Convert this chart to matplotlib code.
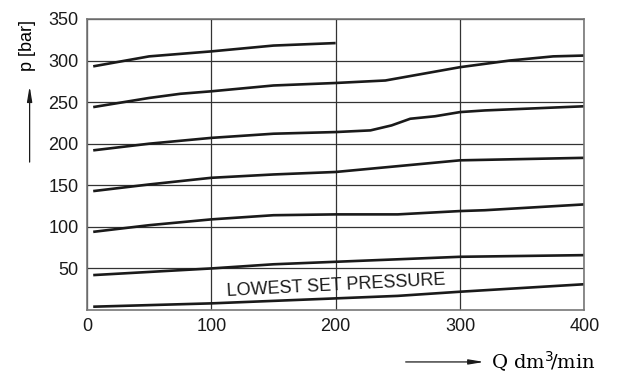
import matplotlib.pyplot as plt

# pressure curves: (flow Q, pressure p)
q1 = [5, 50, 100, 150, 200]
p1 = [293, 305, 311, 318, 321]

q2 = [5, 50, 75, 100, 150, 200, 240, 300, 340, 375, 400]
p2 = [244, 255, 260, 263, 270, 273, 276, 292, 300, 305, 306]

q3 = [5, 50, 100, 150, 200, 228, 245, 260, 280, 300, 320, 400]
p3 = [192, 200, 207, 212, 214, 216, 222, 230, 233, 238, 240, 245]

q4 = [5, 50, 100, 150, 200, 250, 300, 400]
p4 = [143, 151, 159, 163, 166, 173, 180, 183]

q5 = [5, 50, 100, 150, 200, 250, 300, 320, 400]
p5 = [94, 102, 109, 114, 115, 115, 119, 120, 127]

q6 = [5, 100, 150, 200, 300, 400]
p6 = [42, 50, 55, 58, 64, 66]

q7 = [5, 100, 200, 250, 300, 400]
p7 = [4, 8, 14, 17, 22, 31]

curves = [(q1, p1), (q2, p2), (q3, p3), (q4, p4), (q5, p5), (q6, p6), (q7, p7)]

xticks = [0, 100, 200, 300, 400]
yticks = [50, 100, 150, 200, 250, 300, 350]

plt.rcParams['font.family'] = ['Liberation Sans', 'DejaVu Sans']

fig = plt.figure(figsize=(6.17, 3.79), dpi=100)
ax = fig.add_axes([0.141, 0.182, 0.806, 0.768])

for q, p in curves:
    ax.plot(q, p, color='#1a1a1a', lw=1.9, solid_capstyle='butt')

ax.set_xlim(0, 400)
ax.set_ylim(0, 350)
ax.set_xticks(xticks)
ax.set_yticks(yticks)
ax.tick_params(length=0, labelsize=13, pad=6, colors='#1a1a1a')
ax.grid(True, color='#333333', lw=0.9)
ax.set_axisbelow(True)
for s in ax.spines.values():
    s.set_color('#777777')
    s.set_linewidth(1.2)

ax.text(200, 29, 'LOWEST SET PRESSURE', rotation=3, ha='center', va='center',
        fontsize=13, color='#1a1a1a')

# axis labels with arrows
arrow = dict(arrowstyle='-|>,head_length=0.9,head_width=0.15', color='#1a1a1a', lw=0.9)
fig.text(0.045, 0.88, 'p [bar]', rotation=90, ha='center', va='center', fontsize=13)
ax.annotate('', xy=(0.048, 0.78), xytext=(0.048, 0.565), xycoords='figure fraction',
            arrowprops=arrow)
ax.annotate('', xy=(0.789, 0.045), xytext=(0.653, 0.045), xycoords='figure fraction',
            arrowprops=arrow)
fig.text(0.795, 0.045, r'Q dm$^3\!$/min', ha='left', va='center', fontsize=14,
         family='DejaVu Serif')

fig.savefig('out.png', dpi=100)
